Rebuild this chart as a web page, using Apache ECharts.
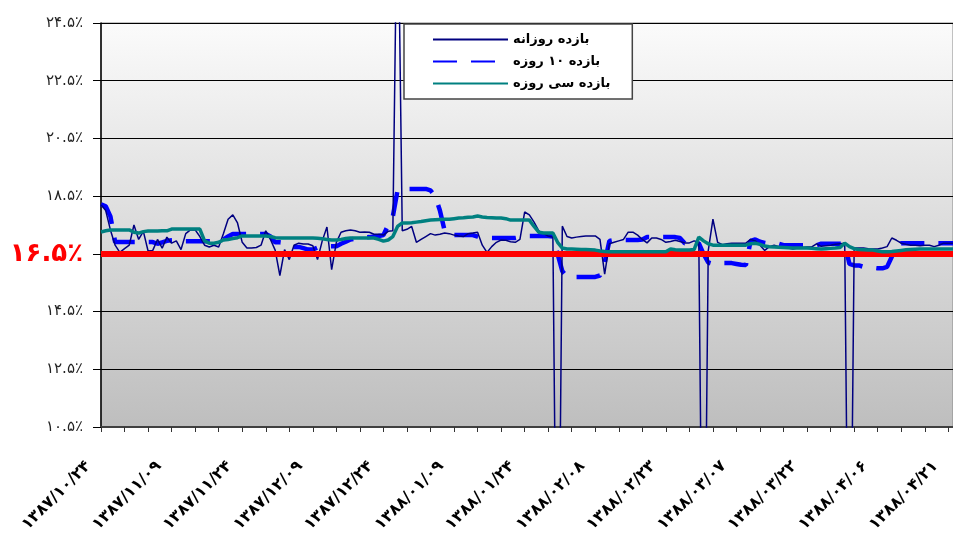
<!DOCTYPE html>
<html><head><meta charset="utf-8">
<script src="https://cdn.jsdelivr.net/npm/echarts@6/dist/echarts.min.js"></script>
<style>html,body{margin:0;padding:0;background:#fff}#c{width:953px;height:536px}</style>
</head><body><div id="c"></div>
<script>
const categories = [
"۱۳۸۷/۱۰/۲۴","۱۳۸۷/۱۰/۲۵","۱۳۸۷/۱۰/۲۶","۱۳۸۷/۱۰/۲۷","۱۳۸۷/۱۰/۲۸","۱۳۸۷/۱۰/۲۹","۱۳۸۷/۱۰/۳۰",
"۱۳۸۷/۱۱/۰۱","۱۳۸۷/۱۱/۰۲","۱۳۸۷/۱۱/۰۳","۱۳۸۷/۱۱/۰۴","۱۳۸۷/۱۱/۰۵","۱۳۸۷/۱۱/۰۶","۱۳۸۷/۱۱/۰۷","۱۳۸۷/۱۱/۰۸","۱۳۸۷/۱۱/۰۹","۱۳۸۷/۱۱/۱۰",
"۱۳۸۷/۱۱/۱۱","۱۳۸۷/۱۱/۱۲","۱۳۸۷/۱۱/۱۳","۱۳۸۷/۱۱/۱۴","۱۳۸۷/۱۱/۱۵","۱۳۸۷/۱۱/۱۶","۱۳۸۷/۱۱/۱۷","۱۳۸۷/۱۱/۱۸","۱۳۸۷/۱۱/۱۹","۱۳۸۷/۱۱/۲۰",
"۱۳۸۷/۱۱/۲۱","۱۳۸۷/۱۱/۲۲","۱۳۸۷/۱۱/۲۳","۱۳۸۷/۱۱/۲۴","۱۳۸۷/۱۱/۲۵","۱۳۸۷/۱۱/۲۶","۱۳۸۷/۱۱/۲۷","۱۳۸۷/۱۱/۲۸","۱۳۸۷/۱۱/۲۹","۱۳۸۷/۱۱/۳۰",
"۱۳۸۷/۱۲/۰۱","۱۳۸۷/۱۲/۰۲","۱۳۸۷/۱۲/۰۳","۱۳۸۷/۱۲/۰۴","۱۳۸۷/۱۲/۰۵","۱۳۸۷/۱۲/۰۶","۱۳۸۷/۱۲/۰۷","۱۳۸۷/۱۲/۰۸","۱۳۸۷/۱۲/۰۹","۱۳۸۷/۱۲/۱۰",
"۱۳۸۷/۱۲/۱۱","۱۳۸۷/۱۲/۱۲","۱۳۸۷/۱۲/۱۳","۱۳۸۷/۱۲/۱۴","۱۳۸۷/۱۲/۱۵","۱۳۸۷/۱۲/۱۶","۱۳۸۷/۱۲/۱۷","۱۳۸۷/۱۲/۱۸","۱۳۸۷/۱۲/۱۹","۱۳۸۷/۱۲/۲۰",
"۱۳۸۷/۱۲/۲۱","۱۳۸۷/۱۲/۲۲","۱۳۸۷/۱۲/۲۳","۱۳۸۷/۱۲/۲۴","۱۳۸۷/۱۲/۲۵","۱۳۸۷/۱۲/۲۶","۱۳۸۷/۱۲/۲۷","۱۳۸۷/۱۲/۲۸","۱۳۸۷/۱۲/۲۹","۱۳۸۷/۱۲/۳۰",
"۱۳۸۸/۰۱/۰۱","۱۳۸۸/۰۱/۰۲","۱۳۸۸/۰۱/۰۳","۱۳۸۸/۰۱/۰۴","۱۳۸۸/۰۱/۰۵","۱۳۸۸/۰۱/۰۶","۱۳۸۸/۰۱/۰۷","۱۳۸۸/۰۱/۰۸","۱۳۸۸/۰۱/۰۹","۱۳۸۸/۰۱/۱۰",
"۱۳۸۸/۰۱/۱۱","۱۳۸۸/۰۱/۱۲","۱۳۸۸/۰۱/۱۳","۱۳۸۸/۰۱/۱۴","۱۳۸۸/۰۱/۱۵","۱۳۸۸/۰۱/۱۶","۱۳۸۸/۰۱/۱۷","۱۳۸۸/۰۱/۱۸","۱۳۸۸/۰۱/۱۹","۱۳۸۸/۰۱/۲۰",
"۱۳۸۸/۰۱/۲۱","۱۳۸۸/۰۱/۲۲","۱۳۸۸/۰۱/۲۳","۱۳۸۸/۰۱/۲۴","۱۳۸۸/۰۱/۲۵","۱۳۸۸/۰۱/۲۶","۱۳۸۸/۰۱/۲۷","۱۳۸۸/۰۱/۲۸","۱۳۸۸/۰۱/۲۹","۱۳۸۸/۰۱/۳۰","۱۳۸۸/۰۱/۳۱",
"۱۳۸۸/۰۲/۰۱","۱۳۸۸/۰۲/۰۲","۱۳۸۸/۰۲/۰۳","۱۳۸۸/۰۲/۰۴","۱۳۸۸/۰۲/۰۵","۱۳۸۸/۰۲/۰۶","۱۳۸۸/۰۲/۰۷","۱۳۸۸/۰۲/۰۸","۱۳۸۸/۰۲/۰۹","۱۳۸۸/۰۲/۱۰",
"۱۳۸۸/۰۲/۱۱","۱۳۸۸/۰۲/۱۲","۱۳۸۸/۰۲/۱۳","۱۳۸۸/۰۲/۱۴","۱۳۸۸/۰۲/۱۵","۱۳۸۸/۰۲/۱۶","۱۳۸۸/۰۲/۱۷","۱۳۸۸/۰۲/۱۸","۱۳۸۸/۰۲/۱۹","۱۳۸۸/۰۲/۲۰",
"۱۳۸۸/۰۲/۲۱","۱۳۸۸/۰۲/۲۲","۱۳۸۸/۰۲/۲۳","۱۳۸۸/۰۲/۲۴","۱۳۸۸/۰۲/۲۵","۱۳۸۸/۰۲/۲۶","۱۳۸۸/۰۲/۲۷","۱۳۸۸/۰۲/۲۸","۱۳۸۸/۰۲/۲۹","۱۳۸۸/۰۲/۳۰","۱۳۸۸/۰۲/۳۱",
"۱۳۸۸/۰۳/۰۱","۱۳۸۸/۰۳/۰۲","۱۳۸۸/۰۳/۰۳","۱۳۸۸/۰۳/۰۴","۱۳۸۸/۰۳/۰۵","۱۳۸۸/۰۳/۰۶","۱۳۸۸/۰۳/۰۷","۱۳۸۸/۰۳/۰۸","۱۳۸۸/۰۳/۰۹","۱۳۸۸/۰۳/۱۰",
"۱۳۸۸/۰۳/۱۱","۱۳۸۸/۰۳/۱۲","۱۳۸۸/۰۳/۱۳","۱۳۸۸/۰۳/۱۴","۱۳۸۸/۰۳/۱۵","۱۳۸۸/۰۳/۱۶","۱۳۸۸/۰۳/۱۷","۱۳۸۸/۰۳/۱۸","۱۳۸۸/۰۳/۱۹","۱۳۸۸/۰۳/۲۰",
"۱۳۸۸/۰۳/۲۱","۱۳۸۸/۰۳/۲۲","۱۳۸۸/۰۳/۲۳","۱۳۸۸/۰۳/۲۴","۱۳۸۸/۰۳/۲۵","۱۳۸۸/۰۳/۲۶","۱۳۸۸/۰۳/۲۷","۱۳۸۸/۰۳/۲۸","۱۳۸۸/۰۳/۲۹","۱۳۸۸/۰۳/۳۰","۱۳۸۸/۰۳/۳۱",
"۱۳۸۸/۰۴/۰۱","۱۳۸۸/۰۴/۰۲","۱۳۸۸/۰۴/۰۳","۱۳۸۸/۰۴/۰۴","۱۳۸۸/۰۴/۰۵","۱۳۸۸/۰۴/۰۶","۱۳۸۸/۰۴/۰۷","۱۳۸۸/۰۴/۰۸","۱۳۸۸/۰۴/۰۹","۱۳۸۸/۰۴/۱۰",
"۱۳۸۸/۰۴/۱۱","۱۳۸۸/۰۴/۱۲","۱۳۸۸/۰۴/۱۳","۱۳۸۸/۰۴/۱۴","۱۳۸۸/۰۴/۱۵","۱۳۸۸/۰۴/۱۶","۱۳۸۸/۰۴/۱۷","۱۳۸۸/۰۴/۱۸","۱۳۸۸/۰۴/۱۹","۱۳۸۸/۰۴/۲۰",
"۱۳۸۸/۰۴/۲۱","۱۳۸۸/۰۴/۲۲"
];

const seriesNames = ["بازده روزانه", "بازده ۱۰ روزه", "بازده سی روزه"];

const daily = [
18.2,18.0,17.33,16.8,16.55,16.68,16.8,17.5,17.0,17.28,
16.6,16.62,17.0,16.7,17.08,16.87,16.95,16.65,17.2,17.33,
17.33,17.1,16.8,16.74,16.8,16.74,17.2,17.7,17.85,17.57,
16.9,16.7,16.7,16.72,16.8,17.3,17.0,16.63,15.75,16.65,
16.3,16.8,16.87,16.84,16.84,16.78,16.3,16.95,17.43,15.95,
16.9,17.25,17.3,17.33,17.3,17.25,17.26,17.25,17.18,17.18,
17.15,17.28,17.3,30,17.3,17.35,17.45,16.9,17.0,17.1,
17.2,17.15,17.18,17.22,17.2,17.15,17.12,17.1,17.2,17.22,
17.25,16.8,16.55,16.75,16.9,16.98,16.97,16.92,16.9,17.0,
17.95,17.85,17.6,17.3,17.2,17.12,17.08,0,17.46,17.1,
17.05,17.08,17.1,17.12,17.12,17.12,17.0,15.8,16.85,16.9,
16.95,17.0,17.25,17.25,17.15,17.0,16.88,17.05,17.05,17.0,
16.9,16.93,16.97,16.93,16.88,16.88,16.95,16.9,0,16.6,
17.7,16.9,16.82,16.85,16.87,16.87,16.87,16.87,17.0,16.95,
16.8,16.62,16.75,16.8,16.75,16.72,16.7,16.67,16.7,16.72,
16.74,16.74,16.85,16.76,16.78,16.8,16.83,16.85,16.87,0,
16.7,16.7,16.7,16.68,16.67,16.67,16.7,16.75,17.05,16.97,
16.87,16.83,16.8,16.8,16.78,16.8,16.8,16.75,16.8,16.87,
16.87,16.87
];

const tenDay = [
18.22,18.15,17.8,16.91,16.91,16.91,16.91,16.91,16.91,16.91,
16.91,16.91,16.85,16.9,16.95,16.97,16.98,16.97,16.94,16.94,
16.94,16.94,16.94,16.94,16.94,16.94,17.0,17.1,17.19,17.19,
17.19,17.19,17.19,17.19,17.19,17.19,17.1,16.9,16.9,16.88,
16.8,16.74,16.74,16.7,16.65,16.65,16.72,16.74,16.76,16.76,
16.76,16.85,16.92,17.0,17.03,17.05,17.07,17.08,17.1,17.12,
17.15,17.5,17.8,18.7,18.75,18.75,18.75,18.75,18.75,18.75,
18.7,18.5,18.0,17.3,17.15,17.15,17.15,17.15,17.15,17.15,
17.1,17.05,17.05,17.05,17.05,17.05,17.05,17.05,17.05,17.08,
17.1,17.12,17.12,17.12,17.12,17.12,17.1,16.5,15.9,15.7,
15.7,15.7,15.7,15.7,15.7,15.7,15.75,16.2,16.95,16.98,
16.98,16.98,16.98,16.98,16.98,17.0,17.08,17.08,17.08,17.08,
17.08,17.08,17.08,17.05,16.87,16.87,16.87,16.87,16.5,16.2,
16.15,16.15,16.18,16.18,16.18,16.15,16.12,16.11,16.95,17.0,
16.92,16.88,16.85,16.85,16.85,16.8,16.8,16.8,16.8,16.8,
16.8,16.8,16.8,16.85,16.85,16.85,16.85,16.85,16.85,16.15,
16.1,16.1,16.05,16.03,16.02,16.0,16.0,16.05,16.4,16.7,
16.87,16.87,16.87,16.87,16.87,16.87,16.87,16.87,16.87,16.87,
16.87,16.87
];

const thirtyDay = [
17.26,17.3,17.33,17.33,17.33,17.33,17.33,17.25,17.22,17.27,
17.29,17.29,17.29,17.3,17.3,17.36,17.36,17.36,17.36,17.36,
17.36,17.36,16.95,16.87,16.87,16.9,16.98,17.0,17.03,17.06,
17.12,17.12,17.12,17.12,17.12,17.12,17.1,17.06,17.05,17.05,
17.05,17.05,17.05,17.05,17.05,17.05,17.04,17.02,17.0,16.98,
16.98,17.0,17.03,17.05,17.05,17.05,17.05,17.05,17.05,17.0,
16.94,16.98,17.1,17.45,17.57,17.57,17.58,17.6,17.62,17.65,
17.67,17.68,17.69,17.7,17.7,17.72,17.74,17.75,17.77,17.78,
17.81,17.78,17.76,17.75,17.74,17.74,17.72,17.67,17.67,17.67,
17.67,17.67,17.45,17.25,17.22,17.22,17.22,16.9,16.7,16.67,
16.67,16.66,16.65,16.65,16.64,16.63,16.6,16.58,16.57,16.57,
16.57,16.57,16.57,16.57,16.57,16.57,16.57,16.57,16.57,16.57,
16.57,16.67,16.64,16.63,16.63,16.63,16.65,17.08,16.95,16.85,
16.8,16.8,16.8,16.8,16.8,16.8,16.8,16.8,16.85,16.87,
16.83,16.77,16.75,16.74,16.73,16.72,16.71,16.7,16.7,16.7,
16.7,16.69,16.68,16.67,16.68,16.69,16.7,16.72,16.87,16.75,
16.68,16.65,16.64,16.63,16.63,16.6,16.57,16.57,16.58,16.6,
16.62,16.64,16.65,16.66,16.67,16.67,16.67,16.67,16.67,16.67,
16.67,16.67
];

const yTicks = [10.5, 12.5, 14.5, 16.5, 18.5, 20.5, 22.5, 24.5];
const yTickLabels = ["۱۰.۵٪", "۱۲.۵٪", "۱۴.۵٪", "۱۶.۵٪", "۱۸.۵٪", "۲۰.۵٪", "۲۲.۵٪", "۲۴.۵٪"];
const targetRate = 16.5;

const chart = echarts.init(document.getElementById('c'), null, {renderer: 'canvas'});
const FONT = "'DejaVu Sans', 'Noto Sans', sans-serif";
chart.setOption({
  animation: false,
  backgroundColor: '#ffffff',
  textStyle: {fontFamily: FONT},
  grid: {
    left: 101, right: -2, top: 23, bottom: 109,
    show: true,
    borderColor: '#888888', borderWidth: 1,
    backgroundColor: {
      type: 'linear', x: 0, y: 0, x2: 0, y2: 1,
      colorStops: [{offset: 0, color: '#fbfbfb'}, {offset: 1, color: '#bebebe'}]
    }
  },
  legend: {
    orient: 'vertical',
    left: 404, top: 24,
    data: seriesNames,
    itemWidth: 75, itemHeight: 14, itemGap: 9,
    padding: [9, 22, 9, 28],
    backgroundColor: '#ffffff',
    borderColor: '#444444', borderWidth: 1.5,
    itemStyle: {opacity: 0},
    textStyle: {fontFamily: FONT, fontSize: 13, fontWeight: 'bold', color: '#000'}
  },
  xAxis: {
    type: 'category',
    data: categories,
    boundaryGap: false,
    axisLine: {lineStyle: {color: '#404040', width: 2}},
    axisTick: {show: true, interval: 4, length: 5, lineStyle: {color: '#333'}},
    axisLabel: {
      interval: 14, rotate: 45, margin: 24,
      padding: [0, 18, 0, 0],
      fontFamily: FONT, fontSize: 16, fontWeight: 'bold', color: '#000'
    },
    splitLine: {show: false}
  },
  yAxis: {
    type: 'value',
    min: 10.5, max: 24.5, interval: 2,
    axisLine: {show: true, lineStyle: {color: '#000', width: 1.5}},
    axisTick: {show: true, length: 8, lineStyle: {color: '#000'}},
    splitLine: {show: true, lineStyle: {color: '#000', width: 1}},
    axisLabel: {
      margin: 18,
      fontFamily: FONT, fontSize: 15, color: '#222',
      formatter: function (v) {
        const i = yTicks.findIndex(t => Math.abs(t - v) < 1e-6);
        const s = i >= 0 ? yTickLabels[i] : '';
        return Math.abs(v - targetRate) < 1e-6 ? '{red|' + s + '}' : s;
      },
      rich: {red: {color: '#ff0000', fontSize: 26, fontWeight: 'bold', fontFamily: FONT}}
    }
  },
  series: [
    {
      name: 'target', type: 'line', data: [], z: 1, silent: true,
      markLine: {
        silent: true, symbol: 'none', label: {show: false},
        lineStyle: {color: '#ff0000', width: 6, type: 'solid'},
        data: [{yAxis: targetRate}]
      }
    },
    {
      name: seriesNames[0], type: 'line', data: daily, z: 4,
      symbol: 'none', clip: true,
      lineStyle: {color: '#000080', width: 1.5},
      itemStyle: {color: '#000080'}
    },
    {
      name: seriesNames[1], type: 'line', data: tenDay, z: 3,
      symbol: 'none', clip: true,
      lineStyle: {color: '#0000ff', width: 4.5, type: [24, 14]},
      itemStyle: {color: '#0000ff'}
    },
    {
      name: seriesNames[2], type: 'line', data: thirtyDay, z: 5,
      symbol: 'none', clip: true,
      lineStyle: {color: '#008080', width: 3.5},
      itemStyle: {color: '#008080'}
    }
  ]
});
</script></body></html>
